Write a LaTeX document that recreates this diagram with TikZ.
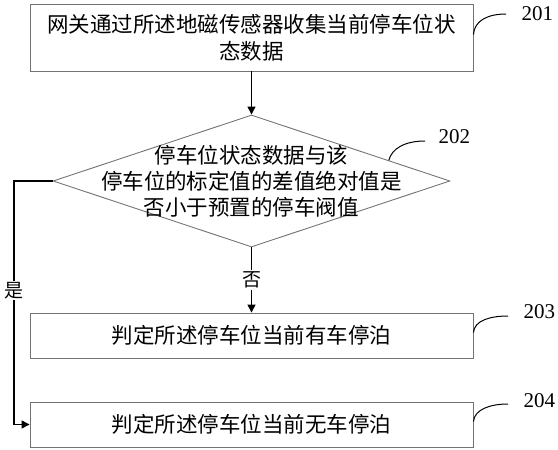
\documentclass[tikz,border=0pt]{standalone}
\usepackage{fontspec}
\setmainfont{Liberation Serif}
\newfontfamily\cjk{Noto Sans CJK SC}
\usetikzlibrary{arrows.meta,shapes.geometric,calc}

\begin{document}
\begin{tikzpicture}[x=1pt,y=-1pt,line width=1pt,
  box/.style={draw=black!55,line width=0.9pt,inner sep=0pt,minimum width=443pt,align=center,
    font=\cjk\fontsize{21.5}{27}\selectfont},
  arr/.style={-{Triangle[length=8pt,width=8pt]},line width=1.3pt},
  lbl/.style={fill=white,inner sep=1.5pt,font=\cjk\fontsize{19}{22}\selectfont},
  tag/.style={line width=1pt},
  num/.style={anchor=west,inner sep=0pt,font=\fontsize{21}{24}\selectfont}]

  \useasboundingbox (0,0) rectangle (558,450);

  % The process boxes
  \node[box,minimum height=67pt] (b1) at (251.5,37.5)
    {网关通过所述地磁传感器收集当前停车位状\\态数据};
  \node[box,minimum height=45pt] (b3) at (251.5,335.5)
    {判定所述停车位当前有车停泊};
  \node[box,minimum height=45pt] (b4) at (251.5,424.5)
    {判定所述停车位当前无车停泊};

  % The decision
  \node[diamond,draw=black!55,line width=0.9pt,minimum width=397pt,minimum height=132pt,inner sep=0pt] (d) at (251.5,181) {};
  \node[align=center,font=\cjk\fontsize{21.5}{26}\selectfont] (dt) at (d.center)
    {停车位状态数据与该\\停车位的标定值的差值绝对值是\\否小于预置的停车阀值};

  % Flow
  \coordinate (yl) at (14,0);
  \draw[arr] (b1.south) -- (d.north);
  \draw[arr] (d.south) -- node[lbl]{否} (b3.north);
  \draw[arr] (d.west) -- (d.west -| yl) -- node[lbl,pos=0.45]{是} (b4.west -| yl) -- (b4.west);

  % Step numbers
  \node[num] (n1) at (521,14) {201};
  \node[num] (n2) at (438,137) {202};
  \node[num] (n3) at (523,312) {203};
  \node[num] (n4) at (523,401) {204};

  \coordinate (e2) at ($(d.north)!0.69!(d.east)$);
  \draw[tag] ([yshift=3pt]b1.east) .. controls +(1,-14) and +(-18,0) .. ([xshift=-15pt]n1.west);
  \draw[tag] (e2) .. controls +(3,-12) and +(-20,0) .. ([xshift=-13pt,yshift=-4pt]n2.west);
  \draw[tag] ([yshift=3pt]b3.east) .. controls +(1,-12) and +(-18,0) .. ([xshift=-15pt,yshift=-4pt]n3.west);
  \draw[tag] ([yshift=3pt]b4.east) .. controls +(1,-12) and +(-18,0) .. ([xshift=-15pt,yshift=-3pt]n4.west);

\end{tikzpicture}
\end{document}
